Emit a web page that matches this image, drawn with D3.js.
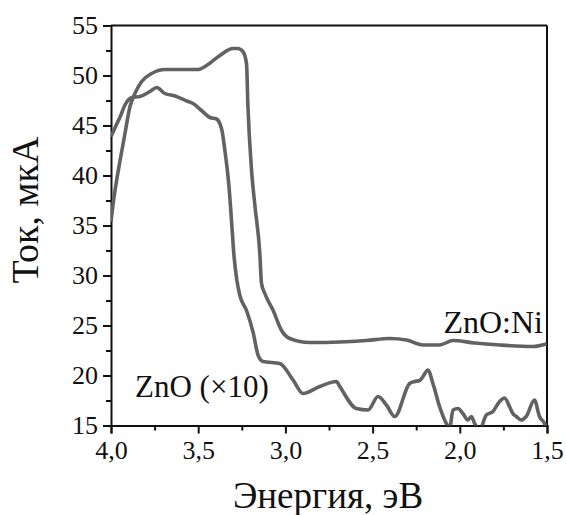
<!DOCTYPE html>
<html>
<head>
<meta charset="utf-8">
<script src="https://cdn.jsdelivr.net/npm/d3@7"></script>
<style>
  body { margin: 0; background: #fff; }
</style>
</head>
<body>
<svg id="chart" width="566" height="515"></svg>
<script>
// ZnO:Ni photocurrent, [energy eV, current uA]
const znoNi = [
  [4.000, 35.4], [3.989, 37.0], [3.977, 38.5], [3.948, 41.5], [3.920, 44.2],
  [3.891, 46.9], [3.863, 48.2], [3.824, 49.4], [3.767, 50.2], [3.691, 50.6],
  [3.502, 50.6], [3.452, 51.0], [3.376, 52.0], [3.301, 52.7], [3.273, 52.7],
  [3.244, 52.4], [3.223, 51.2], [3.215, 47.0], [3.194, 40.5], [3.175, 37.0],
  [3.147, 32.3], [3.137, 29.2], [3.118, 28.2], [3.070, 26.5],
  [3.022, 24.5], [2.975, 23.7], [2.860, 23.3], [2.688, 23.35], [2.535, 23.5],
  [2.402, 23.7], [2.306, 23.55], [2.211, 23.05], [2.116, 23.05], [2.039, 23.5],
  [1.915, 23.25], [1.772, 23.05], [1.581, 22.9], [1.503, 23.15]
];

// ZnO photocurrent (x10)
const zno = [
  [4.000, 43.9], [3.971, 45.0], [3.948, 45.85], [3.920, 47.05], [3.881, 47.8],
  [3.834, 47.9], [3.777, 48.4], [3.738, 48.8], [3.691, 48.2], [3.633, 47.95],
  [3.566, 47.45], [3.530, 47.2], [3.481, 46.5], [3.433, 45.8], [3.395, 45.65],
  [3.365, 44.6], [3.347, 42.5], [3.324, 39.0], [3.307, 35.0], [3.295, 32.0],
  [3.278, 29.5], [3.261, 28.0], [3.223, 26.5], [3.185, 24.3], [3.156, 22.0],
  [3.128, 21.4], [3.032, 21.2], [2.956, 19.55], [2.899, 18.2], [2.803, 18.9],
  [2.707, 19.4], [2.688, 18.9], [2.593, 16.7], [2.526, 16.55], [2.469, 17.9],
  [2.421, 17.05], [2.373, 15.9], [2.288, 19.2], [2.259, 19.4], [2.230, 19.5],
  [2.211, 19.9], [2.183, 20.55], [2.154, 19.2], [2.116, 16.9], [2.077, 15.2],
  [2.058, 14.75], [2.039, 16.55], [2.011, 16.7], [1.982, 16.2], [1.954, 15.55],
  [1.934, 15.9], [1.915, 15.2], [1.887, 14.55], [1.848, 16.05], [1.810, 16.4],
  [1.772, 17.4], [1.743, 17.75], [1.715, 16.9], [1.696, 16.2], [1.676, 15.9],
  [1.648, 15.55], [1.619, 15.9], [1.572, 17.55], [1.543, 15.9], [1.514, 15.2],
  [1.503, 14.75]
];

const xTicks = [4.0, 3.5, 3.0, 2.5, 2.0, 1.5];
const yTicks = [15, 20, 25, 30, 35, 40, 45, 50, 55];

const serif = '"Liberation Serif", "Times New Roman", Times, "DejaVu Serif", serif';

const margin = {top: 25.5, right: 19, bottom: 89.5, left: 111};
const width = 566 - margin.left - margin.right;
const height = 515 - margin.top - margin.bottom;

const svg = d3.select('#chart');
const g = svg.append('g').attr('transform', `translate(${margin.left},${margin.top})`);

const x = d3.scaleLinear().domain([4.0, 1.5]).range([0, width]);
const y = d3.scaleLinear().domain([15, 55]).range([height, 0]);

const fmt = (d) => d3.format('.1f')(d).replace('.', ',');

g.append('clipPath').attr('id', 'plotclip')
  .append('rect').attr('width', width).attr('height', height);

// minor ticks
g.append('g')
  .attr('transform', `translate(0,${height})`)
  .call(d3.axisBottom(x).tickValues(d3.range(3.75, 1.5, -0.5)).tickSize(5).tickFormat(''))
  .call((a) => a.select('.domain').remove());
g.append('g')
  .call(d3.axisLeft(y).tickValues(d3.range(17.5, 55, 5)).tickSize(5).tickFormat(''))
  .call((a) => a.select('.domain').remove());

// major ticks
const xAxis = g.append('g')
  .attr('transform', `translate(0,${height})`)
  .call(d3.axisBottom(x).tickValues(xTicks).tickSize(8).tickPadding(7).tickFormat(fmt));
const yAxis = g.append('g')
  .call(d3.axisLeft(y).tickValues(yTicks).tickSize(8).tickPadding(5));

for (const a of [xAxis, yAxis]) {
  a.attr('font-family', serif).attr('font-size', 26);
  a.selectAll('text').attr('fill', '#111');
}
g.selectAll('.tick line').attr('stroke', '#111').attr('stroke-width', 2);
g.selectAll('.domain').attr('stroke', '#111').attr('stroke-width', 2);

// frame top and right
g.append('line').attr('x1', 0).attr('x2', width).attr('y1', 0).attr('y2', 0)
  .attr('stroke', '#111').attr('stroke-width', 2);
g.append('line').attr('x1', width).attr('x2', width).attr('y1', 0).attr('y2', height)
  .attr('stroke', '#111').attr('stroke-width', 2);

const line = d3.line().x((d) => x(d[0])).y((d) => y(d[1])).curve(d3.curveMonotoneX);

const plot = g.append('g').attr('clip-path', 'url(#plotclip)');
for (const series of [znoNi, zno]) {
  plot.append('path')
    .datum(series)
    .attr('fill', 'none')
    .attr('stroke', '#626262')
    .attr('stroke-width', 3.6)
    .attr('stroke-linejoin', 'round')
    .attr('d', line);
}

// curve labels
g.append('text')
  .attr('x', 543 - margin.left).attr('y', 333 - margin.top)
  .attr('text-anchor', 'end')
  .attr('font-family', serif).attr('font-size', 32).attr('fill', '#111')
  .text('ZnO:Ni');
g.append('text')
  .attr('x', 135 - margin.left).attr('y', 397 - margin.top)
  .attr('font-family', serif).attr('font-size', 31).attr('fill', '#111')
  .text('ZnO (×10)');

// axis titles
svg.append('text')
  .attr('x', 328).attr('y', 508)
  .attr('text-anchor', 'middle')
  .attr('font-family', serif).attr('font-size', 37).attr('fill', '#111')
  .text('Энергия, эВ');
svg.append('text')
  .attr('transform', 'translate(38,210) rotate(-90)')
  .attr('text-anchor', 'middle')
  .attr('font-family', serif).attr('font-size', 38).attr('fill', '#111')
  .text('Ток, мкА');
</script>
</body>
</html>
